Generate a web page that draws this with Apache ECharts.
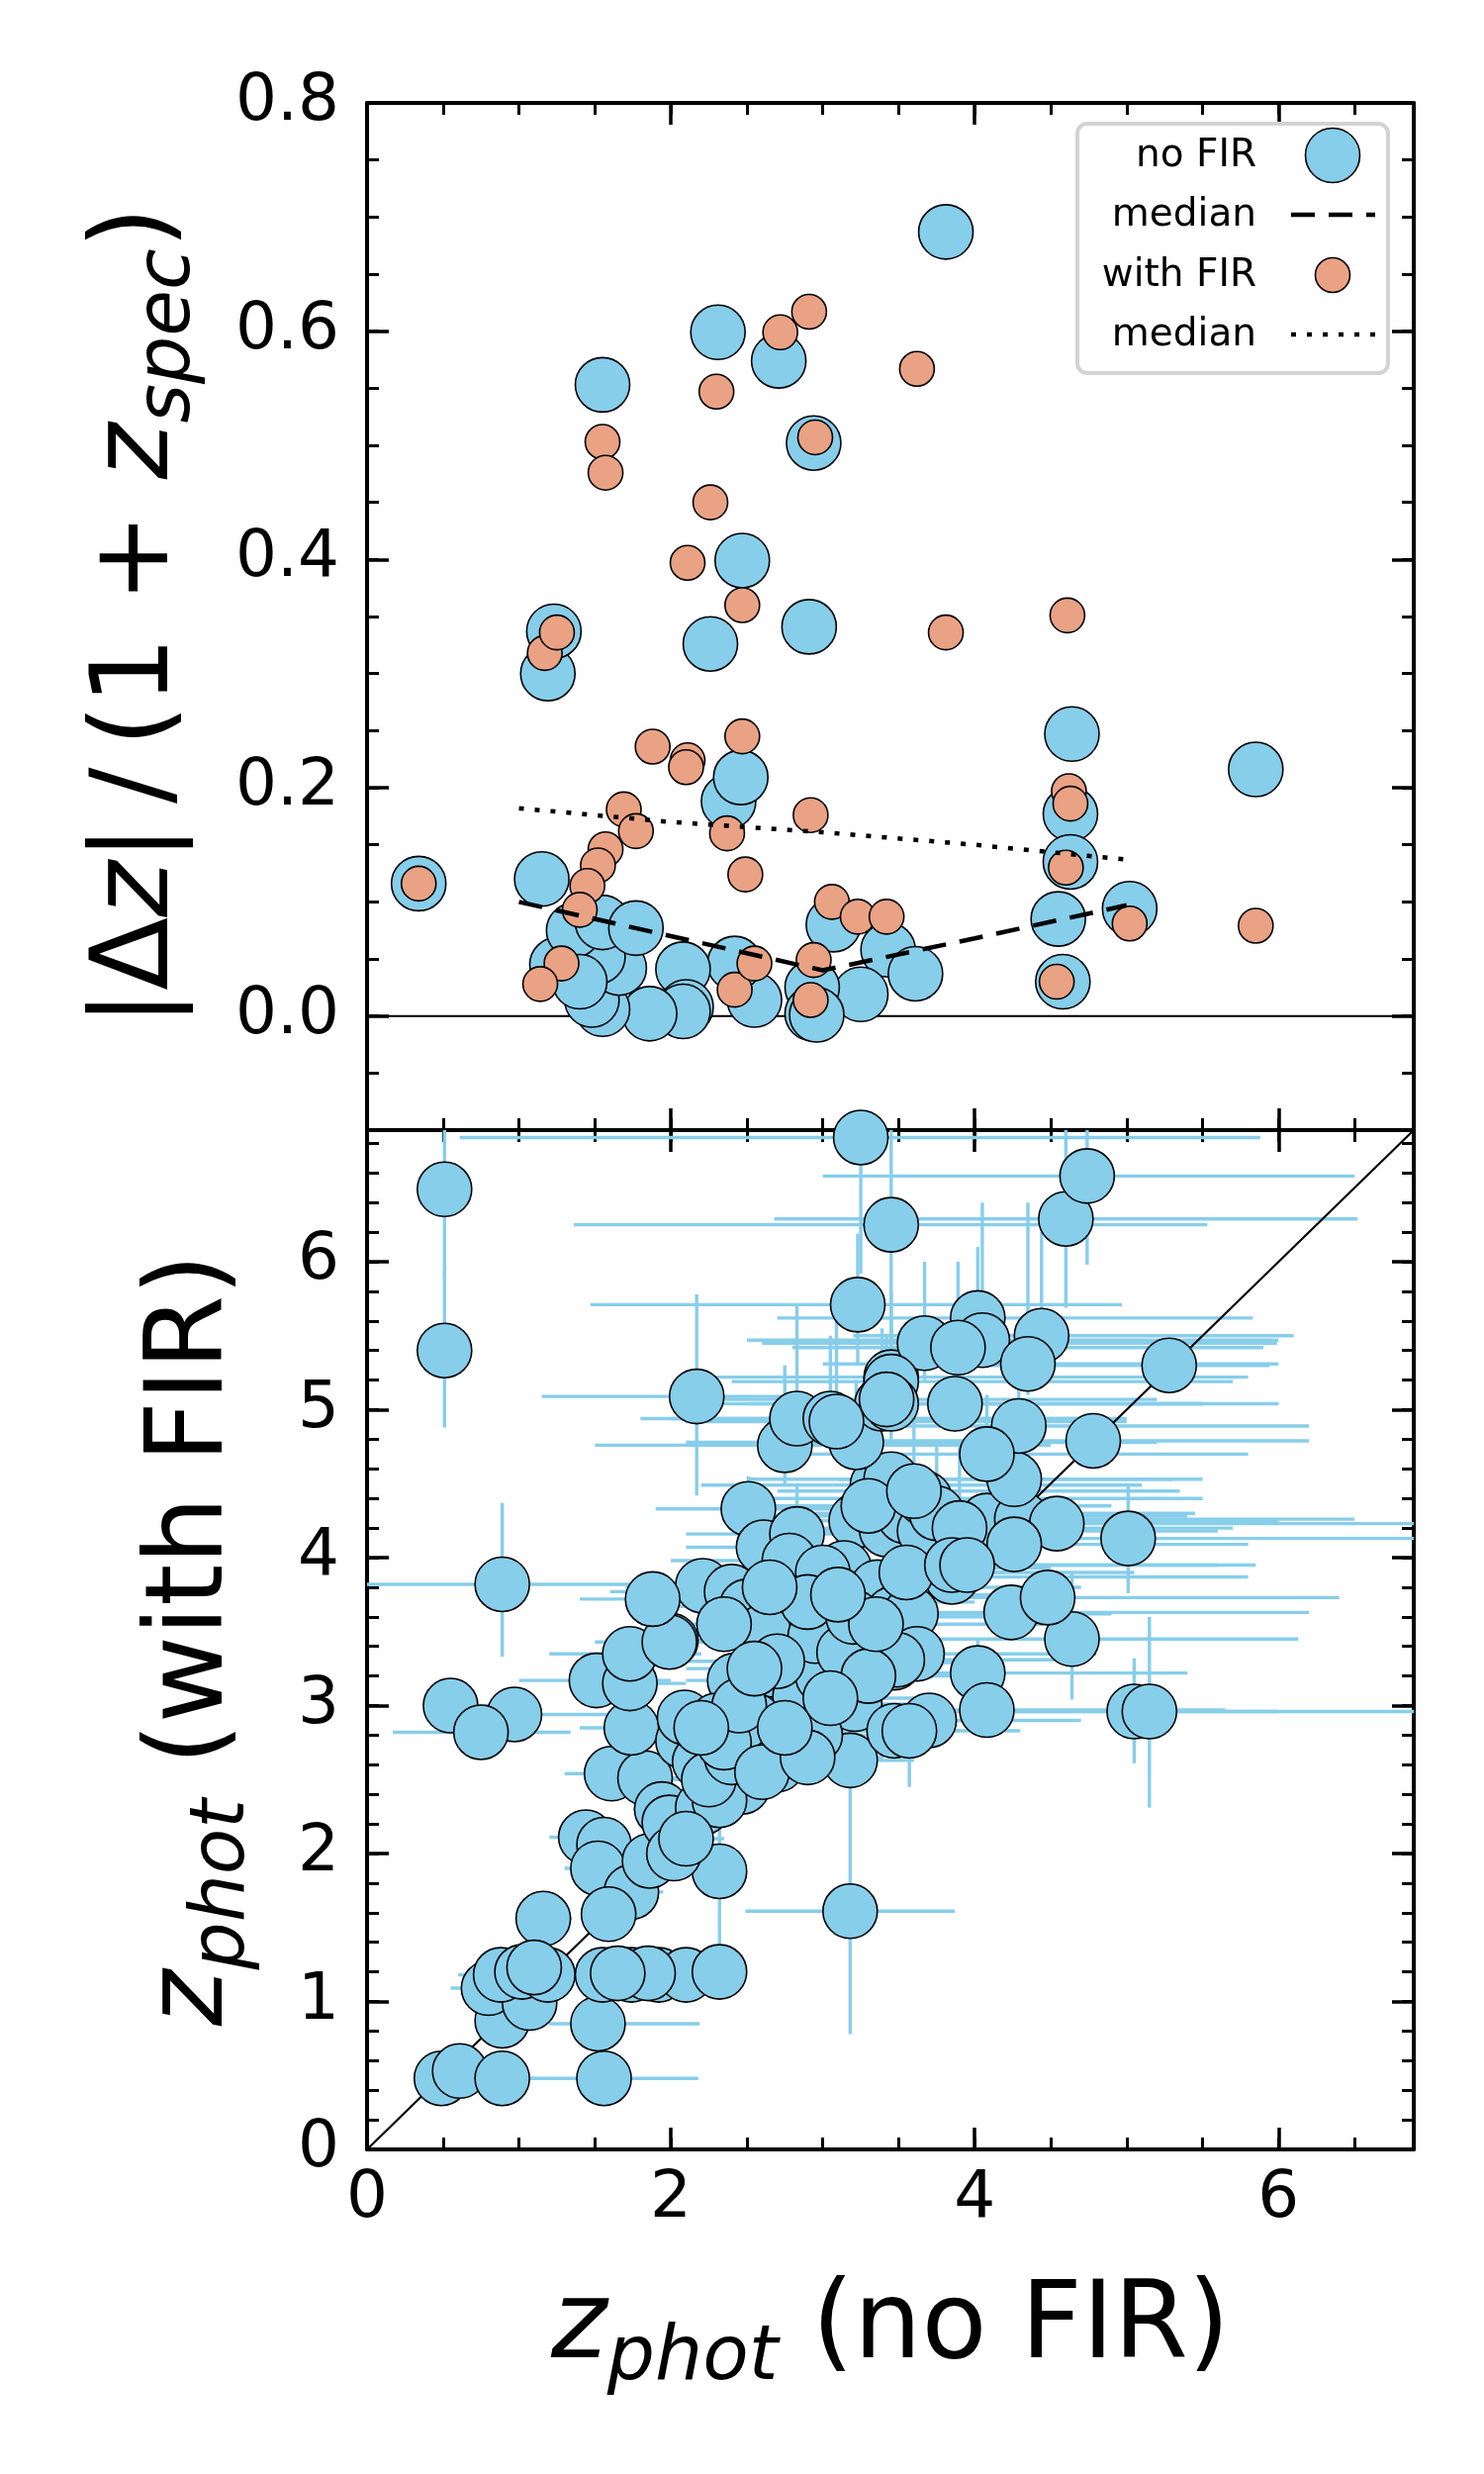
<!DOCTYPE html>
<html lang="en">
<head>
<meta charset="UTF-8"/>
<title>zphot with and without FIR</title>
<script src="https://cdn.jsdelivr.net/npm/echarts@6.0.0/dist/echarts.min.js"></script>
<style>body{margin:0;background:#fff}</style>
</head>
<body>
<div id="main" style="width:1500px;height:2500px"></div>
<script type="text/javascript">
// ---- top panel: |dz|/(1+zspec) against zphot ----
var dzNoFirX = [0.34, 1.15, 1.19, 1.23, 1.55, 2.31, 2.71, 3.81, 2.94, 2.47,
                2.91, 2.26, 2.38, 2.46, 4.64, 4.63, 4.63, 5.85, 5.02, 4.55,
                4.58, 3.07, 3.43, 3.61, 3.25, 2.93, 2.93, 2.96, 2.55, 2.42,
                2.08, 2.10, 2.08, 1.86, 1.55, 1.48, 1.66, 1.52, 1.25, 1.36,
                1.55, 1.77, 1.40];
var dzNoFirY = [0.116, 0.120, 0.300, 0.337, 0.553, 0.599, 0.574, 0.687, 0.502, 0.399,
                0.341, 0.326, 0.188, 0.209, 0.247, 0.177, 0.135, 0.216, 0.094, 0.085,
                0.030, 0.080, 0.058, 0.037, 0.019, 0.025, 0.002, 0.001, 0.014, 0.046,
                0.041, 0.008, 0.004, 0.002, 0.006, 0.014, 0.042, 0.052, 0.045, 0.075,
                0.082, 0.077, 0.030];
var dzWithFirX = [0.34, 1.17, 1.25, 1.55, 1.57, 2.30, 2.72, 2.91, 2.95, 3.62,
                  2.26, 2.11, 2.47, 3.81, 4.61, 1.88, 2.11, 2.10, 2.47, 2.37,
                  2.49, 2.92, 4.62, 4.63, 4.60, 4.54, 5.02, 5.85, 3.06, 3.23,
                  3.42, 1.69, 1.77, 1.57, 1.52, 1.45, 1.40, 1.28, 1.14, 2.42,
                  2.55, 2.94, 2.92];
var dzWithFirY = [0.116, 0.318, 0.336, 0.503, 0.476, 0.547, 0.599, 0.617, 0.507, 0.567,
                  0.450, 0.397, 0.360, 0.336, 0.351, 0.236, 0.224, 0.218, 0.245, 0.160,
                  0.124, 0.176, 0.197, 0.186, 0.130, 0.030, 0.081, 0.079, 0.100, 0.087,
                  0.087, 0.181, 0.162, 0.146, 0.132, 0.114, 0.093, 0.046, 0.028, 0.023,
                  0.046, 0.049, 0.014];
var medianBins = [1, 2, 3, 4, 5];
var medianNoFir = [0.100, 0.070, 0.040, 0.068, 0.097];
var medianWithFir = [0.182, 0.170, 0.161, 0.150, 0.137];

// ---- bottom panel: zphot with FIR against zphot without FIR, with errors ----
var zNoFir = [0.51, 0.51, 3.25, 3.45, 4.60, 4.74, 3.23, 2.17, 0.89, 0.55,
              0.97, 0.75, 5.28, 4.78, 5.01, 5.05, 5.15, 4.64, 3.18, 2.32,
              1.56, 1.52, 0.49, 0.61, 0.89, 0.89, 1.16, 0.80, 1.07, 0.88,
              1.02, 1.19, 1.55, 1.74, 1.92, 2.10, 2.32, 1.85, 1.65, 1.10,
              1.44, 1.56, 1.52, 1.74, 1.86, 1.59, 1.61, 1.83, 1.94, 1.99,
              2.21, 2.47, 2.32, 1.74, 2.08, 2.19, 2.09, 1.51, 1.73, 2.00,
              2.42, 2.51, 2.68, 2.76, 2.85, 3.14, 2.62, 3.18, 3.21, 3.47,
              3.47, 2.02, 2.10, 2.25, 2.40, 2.30, 2.55, 2.95, 3.00, 2.70,
              2.90, 1.73, 1.99, 2.21, 2.40, 2.50, 2.61, 2.95, 3.14, 2.51,
              2.61, 2.83, 2.78, 3.22, 3.14, 3.36, 3.46, 3.42, 3.36, 1.88,
              3.45, 3.54, 3.67, 3.67, 3.85, 3.58, 4.24, 4.48, 4.08, 4.31,
              4.54, 4.26, 4.26, 3.62, 3.49, 4.02, 4.08, 3.70, 3.57, 3.00,
              2.90, 3.20, 2.70, 3.30, 3.05, 2.75, 2.83, 3.05, 3.22, 3.39,
              3.45, 4.02, 4.05, 3.67, 4.44, 4.35, 3.89, 3.45, 3.87, 4.29,
              4.08, 3.45, 3.42, 3.09, 2.35, 2.60, 2.90, 2.45, 2.75, 3.35,
              3.55, 3.75, 3.90, 3.30, 2.35, 2.55, 3.85, 3.95, 2.20, 2.65,
              3.10, 3.60];
var zWithFir = [6.49, 5.40, 6.84, 6.25, 6.29, 6.58, 5.71, 5.09, 3.82, 3.00,
                2.94, 2.82, 5.30, 4.79, 4.13, 2.96, 2.96, 3.45, 1.61, 1.88,
                0.48, 0.85, 0.48, 0.53, 0.48, 0.87, 1.56, 1.09, 0.99, 1.18,
                1.20, 1.18, 1.18, 1.18, 1.18, 1.18, 1.20, 1.19, 1.19, 1.23,
                2.11, 2.06, 1.90, 1.74, 1.95, 1.59, 2.54, 2.51, 2.30, 2.21,
                2.31, 2.45, 2.36, 2.85, 2.76, 2.62, 2.92, 3.17, 3.15, 3.44,
                3.17, 2.72, 3.24, 2.68, 3.06, 3.40, 3.47, 2.63, 3.01, 3.29,
                2.83, 2.00, 2.10, 2.50, 2.65, 2.90, 2.90, 2.80, 3.20, 2.60,
                3.50, 3.35, 3.43, 3.81, 3.77, 3.67, 3.50, 3.47, 3.36, 4.33,
                4.07, 4.16, 3.98, 4.25, 3.93, 3.80, 3.62, 4.19, 4.49, 3.72,
                4.53, 4.28, 4.18, 4.40, 3.87, 3.62, 3.63, 3.73, 4.25, 4.26,
                4.23, 4.09, 4.53, 3.35, 3.31, 3.22, 2.97, 2.90, 2.83, 3.90,
                3.70, 3.60, 3.30, 3.20, 3.05, 4.76, 4.94, 4.94, 4.78, 5.04,
                5.22, 5.62, 5.47, 5.45, 5.50, 5.31, 5.42, 5.19, 5.04, 4.89,
                4.70, 5.04, 5.07, 4.92, 2.75, 2.55, 2.65, 3.00, 2.85, 3.55,
                3.90, 4.30, 4.20, 4.35, 3.55, 3.25, 3.95, 3.95, 2.85, 3.80,
                3.75, 4.45];
var xErrMinus = [0, 0, 2.64, 2.09, 1.92, 1.74, 1.76, 1.02, 0.89, 0.15,
                 0.37, 0.58, 1.18, 1.58, 1.11, 1.15, 1.55, 1.44, 0.69, 0.12,
                 0.48, 0.32, 0.09, 0.11, 0.19, 0.14, 0.16, 0.25, 0.17, 0.28,
                 0.17, 0.19, 0.25, 0.24, 0.22, 0.20, 0.22, 0.25, 0.20, 0.15,
                 0.24, 0.21, 0.22, 0.19, 0.21, 0.14, 0.31, 0.23, 0.19, 0.19,
                 0.21, 0.22, 0.22, 0.34, 0.28, 0.24, 0.29, 0.51, 0.33, 0.30,
                 0.32, 0.31, 0.38, 0.36, 0.35, 0.44, 0.42, 0.38, 0.41, 0.47,
                 0.37, 0.22, 0.20, 0.25, 0.30, 0.30, 0.35, 0.35, 0.40, 0.30,
                 0.40, 0.53, 0.49, 0.51, 0.80, 0.70, 0.61, 0.65, 0.64, 0.61,
                 0.51, 0.73, 0.78, 0.82, 0.74, 0.76, 0.66, 0.92, 1.16, 0.48,
                 0.95, 0.84, 0.87, 1.07, 0.85, 0.68, 1.04, 1.08, 1.08, 1.21,
                 1.24, 1.06, 1.16, 0.62, 0.59, 0.82, 0.68, 0.60, 0.57, 0.70,
                 0.60, 0.70, 0.60, 0.60, 0.45, 1.25, 1.03, 1.05, 1.12, 0.89,
                 1.25, 1.32, 1.55, 1.07, 1.24, 1.35, 1.09, 1.05, 1.17, 1.29,
                 1.18, 1.15, 1.12, 0.99, 0.30, 0.35, 0.40, 0.35, 0.40, 0.70,
                 0.80, 0.90, 0.95, 0.80, 0.55, 0.45, 0.85, 0.90, 0.30, 0.65,
                 0.70, 0.90];
var xErrPlus = [0, 0, 2.63, 2.08, 1.92, 1.76, 1.74, 0.57, 1.01, 0.55,
                0.63, 0.59, 0.66, 1.42, 1.94, 0.95, 1.80, 1.49, 0.69, 0.13,
                0.62, 0.67, 0.11, 0.14, 0.21, 0.16, 0.19, 0.20, 0.18, 0.22,
                0.23, 0.21, 0.25, 0.26, 0.23, 0.20, 0.18, 0.25, 0.25, 0.20,
                0.26, 0.24, 0.23, 0.21, 0.24, 0.16, 0.29, 0.27, 0.21, 0.21,
                0.24, 0.23, 0.23, 0.36, 0.32, 0.26, 0.31, 0.49, 0.37, 0.40,
                0.38, 0.34, 0.42, 0.34, 0.45, 0.46, 0.38, 0.42, 0.49, 0.53,
                0.43, 0.23, 0.25, 0.25, 0.30, 0.35, 0.35, 0.35, 0.50, 0.30,
                0.50, 0.47, 0.51, 0.79, 0.80, 0.80, 0.69, 0.75, 0.66, 1.29,
                1.39, 1.57, 1.32, 1.78, 1.36, 1.34, 1.14, 1.78, 1.74, 0.72,
                1.85, 1.86, 1.93, 1.83, 1.95, 1.32, 1.96, 1.92, 1.92, 2.19,
                2.41, 1.54, 1.24, 1.18, 1.11, 1.38, 1.57, 1.00, 0.73, 1.20,
                1.10, 1.10, 0.80, 0.70, 0.75, 1.75, 1.87, 1.95, 1.98, 2.11,
                2.35, 1.81, 1.95, 2.32, 1.66, 1.65, 2.01, 2.25, 2.13, 1.91,
                1.72, 2.05, 1.78, 1.91, 0.40, 0.45, 0.50, 0.50, 0.55, 1.10,
                1.50, 1.70, 1.80, 1.60, 0.85, 0.65, 1.75, 1.90, 0.40, 1.05,
                1.20, 1.75];
var yErrMinus = [0.59, 0.52, 0.92, 0.95, 0.60, 0.60, 0.41, 0.67, 0.49, 0.15,
                 0.14, 0.12, 0.10, 0.19, 0.37, 0.35, 0.65, 0.41, 0.83, 0.50,
                 0, 0, 0, 0, 0, 0, 0.11, 0, 0, 0,
                 0, 0, 0, 0, 0, 0, 0, 0, 0, 0,
                 0.11, 0, 0, 0, 0, 0, 0.14, 0, 0, 0,
                 0, 0, 0, 0, 0, 0, 0, 0, 0, 0.14,
                 0, 0, 0, 0, 0, 0, 0, 0.18, 0, 0,
                 0, 0, 0, 0, 0, 0, 0, 0, 0, 0,
                 0, 0, 0, 0, 0, 0, 0, 0, 0, 0.23,
                 0.17, 0.21, 0, 0.20, 0, 0, 0, 0.19, 0.19, 0.17,
                 0, 0, 0.18, 0, 0, 0, 0, 0, 0.15, 0,
                 0, 0, 0, 0, 0, 0.22, 0, 0.15, 0.38, 0,
                 0, 0, 0, 0, 0, 0.26, 0.24, 0.14, 0.18, 0.19,
                 0.22, 0.22, 0.17, 0.25, 0.20, 0.21, 0.22, 0.19, 0.19, 0.19,
                 0.20, 0.24, 0.17, 0.22, 0, 0, 0, 0, 0, 0,
                 0, 0.18, 0.20, 0.16, 0, 0, 0, 0, 0, 0,
                 0, 0.20];
var yErrPlus = [0.46, 0.54, 0.11, 0.70, 0.66, 0.37, 0.48, 0.69, 0.55, 0.10,
                0.11, 0.13, 0.10, 0.16, 0.37, 0.36, 0.64, 0.45, 0.84, 0.32,
                0, 0, 0, 0, 0, 0, 0.09, 0, 0, 0,
                0, 0, 0, 0, 0, 0, 0, 0, 0, 0,
                0.14, 0, 0, 0, 0, 0, 0.16, 0, 0, 0,
                0, 0, 0, 0, 0, 0, 0, 0, 0, 0.16,
                0, 0, 0, 0, 0, 0, 0, 0.22, 0, 0,
                0, 0, 0, 0, 0, 0, 0, 0, 0, 0,
                0, 0, 0, 0, 0, 0, 0, 0, 0, 0.22,
                0.23, 0.34, 0, 0.35, 0, 0, 0, 0.31, 0.26, 0.18,
                0, 0, 0.17, 0, 0, 0, 0, 0, 0.15, 0,
                0, 0, 0, 0, 0, 0.23, 0, 0.15, 0.17, 0,
                0, 0, 0, 0, 0, 0.54, 0.76, 0.56, 0.42, 0.51,
                0.58, 0.48, 0.93, 0.55, 0.70, 1.09, 0.58, 0.41, 0.36, 0.61,
                0.40, 0.36, 0.43, 0.68, 0, 0, 0, 0, 0, 0,
                0, 0.45, 0.60, 0.55, 0, 0, 0, 0, 0, 0,
                0, 0.70];

// axis ranges and tick labels
var zRange = [0, 6.89];
var dzRange = [-0.1, 0.8];
var zTicks = [0, 2, 4, 6];
var zWithTicks = [0, 1, 2, 3, 4, 5, 6];
var dzTicks = [0, 0.2, 0.4, 0.6, 0.8];

var FONT = 'DejaVu Sans';
var BLUE = '#87CEEB';
var SALMON = '#EAA284';

function zip(a, b) {
    var out = [];
    for (var i = 0; i < a.length; i++) out.push([a[i], b[i]]);
    return out;
}

// one side of a panel = a major axis (spine, long ticks, labels) + a minor-tick axis
function sideAxes(grid, pos, range, minorStep, majorStep, majors, labelOpt, nameOpt) {
    var major = {
        type: 'value', gridIndex: grid, position: pos, min: range[0], max: range[1], interval: majorStep,
        axisLine: {show: true, onZero: false, lineStyle: {color: '#000', width: 4}},
        axisTick: {show: true, inside: true, length: 22, customValues: majors, lineStyle: {color: '#000', width: 3.5}},
        axisLabel: labelOpt ? Object.assign({show: true, customValues: majors, color: '#000',
                                             fontFamily: FONT, fontSize: 66}, labelOpt) : {show: false},
        splitLine: {show: false}
    };
    if (nameOpt) Object.assign(major, nameOpt);
    var minor = {
        type: 'value', gridIndex: grid, position: pos, min: range[0], max: range[1], interval: minorStep,
        axisLine: {show: false, onZero: false},
        axisTick: {show: true, inside: true, length: 12, lineStyle: {color: '#000', width: 3}},
        axisLabel: {show: false},
        splitLine: {show: false}
    };
    return [major, minor];
}

var nameRich = {
    n: {fontFamily: FONT, fontSize: 108, color: '#000', lineHeight: 140},
    i: {fontFamily: FONT, fontSize: 108, fontStyle: 'italic', color: '#000', lineHeight: 140},
    s: {fontFamily: FONT, fontSize: 76, fontStyle: 'italic', color: '#000', lineHeight: 76, padding: [60, 0, 0, 0]}
};

var xAxes = [].concat(
    sideAxes(0, 'bottom', zRange, 0.5, 2, zTicks, null, null),
    sideAxes(0, 'top', zRange, 0.5, 2, zTicks, null, null),
    sideAxes(1, 'bottom', zRange, 0.5, 2, zTicks, {margin: 18}, {
        name: '{i|z}{s|phot}{n| (no FIR)}', nameLocation: 'middle', nameGap: 112,
        nameTextStyle: {rich: nameRich}
    }),
    sideAxes(1, 'top', zRange, 0.5, 2, zTicks, null, null)
);
var yAxes = [].concat(
    sideAxes(0, 'left', dzRange, 0.05, 0.1, dzTicks, {margin: 28, formatter: function (v) { return v.toFixed(1); }}, {
        name: '{n||Δ}{i|z}{n||\u2009/\u2009(1 + }{i|z}{s|spec}{n|)}', nameLocation: 'middle', nameRotate: 90, nameGap: 160,
        nameTextStyle: {rich: nameRich}
    }),
    sideAxes(0, 'right', dzRange, 0.05, 0.1, dzTicks, null, null),
    sideAxes(1, 'left', zRange, 0.2, 1, zWithTicks, {margin: 28}, {
        name: '{i|z}{s|phot}{n| (with FIR)}', nameLocation: 'middle', nameRotate: 90, nameGap: 105,
        nameTextStyle: {rich: nameRich}
    }),
    sideAxes(1, 'right', zRange, 0.2, 1, zWithTicks, null, null)
);

var errRows = [];
for (var i = 0; i < zNoFir.length; i++) {
    errRows.push([zNoFir[i], zWithFir[i], xErrMinus[i], xErrPlus[i], yErrMinus[i], yErrPlus[i]]);
}

function renderErrorBar(params, api) {
    var x = api.value(0), y = api.value(1);
    var cs = params.coordSys;
    function clampX(v) { return Math.max(cs.x, Math.min(cs.x + cs.width, v)); }
    function clampY(v) { return Math.max(cs.y, Math.min(cs.y + cs.height, v)); }
    var l = api.coord([x - api.value(2), y]);
    var r = api.coord([x + api.value(3), y]);
    var b = api.coord([x, y - api.value(4)]);
    var t = api.coord([x, y + api.value(5)]);
    var st = {stroke: BLUE, lineWidth: 3.4};
    return {
        type: 'group',
        children: [
            {type: 'line', shape: {x1: clampX(l[0]), y1: l[1], x2: clampX(r[0]), y2: r[1]}, style: st},
            {type: 'line', shape: {x1: b[0], y1: clampY(b[1]), x2: t[0], y2: clampY(t[1])}, style: st}
        ]
    };
}

var blackEdge = {borderColor: '#000', borderWidth: 1.6, opacity: 1};

var myChart = echarts.init(document.getElementById('main'));
option = {
    backgroundColor: '#fff',
    animation: false,
    grid: [
        {left: 371, top: 104, width: 1058, height: 1038},
        {left: 371, top: 1142, width: 1058, height: 1030}
    ],
    xAxis: xAxes,
    yAxis: yAxes,
    series: [
        {   // y = 0 reference
            type: 'line', xAxisIndex: 0, yAxisIndex: 0, symbol: 'none', silent: true, z: 1,
            data: [[zRange[0], 0], [zRange[1], 0]],
            lineStyle: {color: '#000', width: 2}
        },
        {
            name: 'no FIR', type: 'scatter', xAxisIndex: 0, yAxisIndex: 0, z: 3,
            symbolSize: 55, data: zip(dzNoFirX, dzNoFirY),
            itemStyle: Object.assign({color: BLUE}, blackEdge)
        },
        {
            name: 'with FIR', type: 'scatter', xAxisIndex: 0, yAxisIndex: 0, z: 4,
            symbolSize: 35, data: zip(dzWithFirX, dzWithFirY),
            itemStyle: Object.assign({color: SALMON}, blackEdge)
        },
        {
            name: 'median', type: 'line', xAxisIndex: 0, yAxisIndex: 0, symbol: 'none', z: 5,
            data: zip(medianBins, medianNoFir),
            lineStyle: {color: '#000', width: 4.5, type: [24, 14]}
        },
        {
            name: 'median FIR', type: 'line', xAxisIndex: 0, yAxisIndex: 0, symbol: 'none', z: 5,
            data: zip(medianBins, medianWithFir),
            lineStyle: {color: '#000', width: 4.5, type: [5, 11], cap: 'butt'}
        },
        {
            type: 'custom', xAxisIndex: 4, yAxisIndex: 4, z: 1, silent: true,
            renderItem: renderErrorBar, encode: {x: 0, y: 1}, data: errRows
        },
        {   // one-to-one line
            type: 'line', xAxisIndex: 4, yAxisIndex: 4, symbol: 'none', silent: true, z: 2,
            data: [[zRange[0], zRange[0]], [zRange[1], zRange[1]]],
            lineStyle: {color: '#000', width: 2.2}
        },
        {
            type: 'scatter', xAxisIndex: 4, yAxisIndex: 4, z: 3,
            symbolSize: 55, data: zip(zNoFir, zWithFir),
            itemStyle: Object.assign({color: BLUE}, blackEdge)
        }
    ],
    // matplotlib-style legend: labels right-aligned, handles on the right
    graphic: [
        {type: 'rect', z: 100, shape: {x: 1089, y: 125, width: 314, height: 252, r: 10},
         style: {fill: 'rgba(255,255,255,0.85)', stroke: '#d3d3d3', lineWidth: 4}},
        {type: 'text', z: 101, x: 1270, y: 158, style: {text: 'no FIR', fontFamily: FONT, fontSize: 39, fill: '#000', align: 'right', verticalAlign: 'middle'}},
        {type: 'text', z: 101, x: 1270, y: 218, style: {text: 'median', fontFamily: FONT, fontSize: 39, fill: '#000', align: 'right', verticalAlign: 'middle'}},
        {type: 'text', z: 101, x: 1270, y: 279, style: {text: 'with FIR', fontFamily: FONT, fontSize: 39, fill: '#000', align: 'right', verticalAlign: 'middle'}},
        {type: 'text', z: 101, x: 1270, y: 339, style: {text: 'median', fontFamily: FONT, fontSize: 39, fill: '#000', align: 'right', verticalAlign: 'middle'}},
        {type: 'circle', z: 101, shape: {cx: 1347, cy: 157, r: 27.5}, style: {fill: BLUE, stroke: '#000', lineWidth: 1.6}},
        {type: 'line', z: 101, shape: {x1: 1305, y1: 217, x2: 1390, y2: 217}, style: {stroke: '#000', lineWidth: 4.5, lineDash: [24, 14]}},
        {type: 'circle', z: 101, shape: {cx: 1347, cy: 278, r: 17.5}, style: {fill: SALMON, stroke: '#000', lineWidth: 1.6}},
        {type: 'line', z: 101, shape: {x1: 1305, y1: 338, x2: 1390, y2: 338}, style: {stroke: '#000', lineWidth: 4.5, lineDash: [5, 11]}}
    ]
};
myChart.setOption(option);
</script>
</body>
</html>
